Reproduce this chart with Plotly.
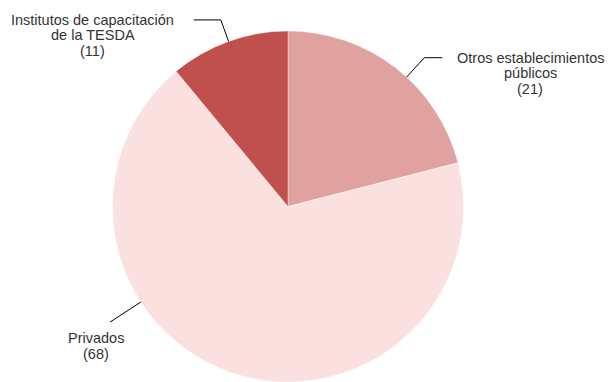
import math
import plotly.graph_objects as go

# Data
categories = ["Otros establecimientos|públicos", "Privados", "Institutos de capacitación|de la TESDA"]
values = [21, 68, 11]
colors = ["#E0A29F", "#FAE1E0", "#C0504D"]

# Layout geometry (pixels)
W, H = 611, 382
M_TOP, M_BOT = 31, 0
CX = 288
plot_h = H - M_TOP - M_BOT
R = plot_h / 2
CY = M_TOP + R

# Leader-line settings per slice: angle override (None = slice middle),
# elbow radius factor, horizontal tail length (signed),
# text block centre offset from the tail end (dx, dy of first line)
label_angle = [42.5, 237.0, None]
elbow_factor = [1.15, 1.21, 1.13]
tail = [18, 0, -27]
text_offset = [(88, 0), (-14, 16), (-101, 0)]
LINE_STEP = 15.5
FONT = dict(family="Liberation Sans, Arial, sans-serif", size=14.5, color="#333333")


def to_paper(px, py):
    return px / W, (H - M_BOT - py) / plot_h


fig = go.Figure(go.Pie(
    labels=[c.replace("|", " ") for c in categories],
    values=values,
    marker=dict(colors=colors, line=dict(color="rgba(255,255,255,0.6)", width=0.6)),
    sort=False,
    direction="clockwise",
    rotation=0,
    textinfo="none",
    hoverinfo="label+value",
    showlegend=False,
    domain=dict(x=[0, 2 * CX / W], y=[0, 1]),
))

total = sum(values)
shapes, annotations = [], []
cum = 0
for i, (lab, v) in enumerate(zip(categories, values)):
    mid = (cum + v / 2) / total * 360
    cum += v
    ang = math.radians(label_angle[i] if label_angle[i] is not None else mid)
    sx, sy = CX + R * math.sin(ang), CY - R * math.cos(ang)
    ex, ey = CX + R * elbow_factor[i] * math.sin(ang), CY - R * elbow_factor[i] * math.cos(ang)
    tx, ty = ex + tail[i], ey
    pts = [to_paper(sx, sy), to_paper(ex, ey), to_paper(tx, ty)]
    path = "M {} {} L {} {} L {} {}".format(*[c for p in pts for c in p])
    shapes.append(dict(type="path", xref="paper", yref="paper", path=path,
                       line=dict(color="#000000", width=1)))
    lines = lab.split("|") + [f"({v})"]
    bx = tx + text_offset[i][0]
    by = ty + text_offset[i][1]
    for k, line in enumerate(lines):
        ax, ay = to_paper(bx, by + k * LINE_STEP)
        annotations.append(dict(x=ax, y=ay, xref="paper", yref="paper",
                                xanchor="center", yanchor="middle",
                                text=line, showarrow=False, font=FONT))

fig.update_layout(
    width=W, height=H,
    margin=dict(l=0, r=0, t=M_TOP, b=M_BOT, pad=0),
    paper_bgcolor="white",
    plot_bgcolor="white",
    shapes=shapes,
    annotations=annotations,
)

fig.write_html("out.html")
